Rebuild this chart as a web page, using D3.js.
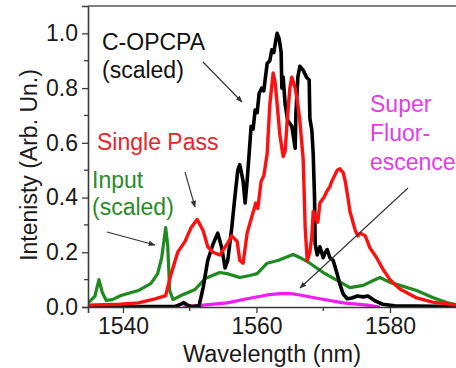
<!DOCTYPE html>
<html>
<head>
<meta charset="utf-8">
<script src="https://cdn.jsdelivr.net/npm/d3@7"></script>
<style>
  body { margin: 0; background: #fff; }
  svg { display: block; font-family: "Liberation Sans", Arial, sans-serif; }
</style>
</head>
<body>
<div id="chart"></div>
<script>
// spectra (wavelength nm, intensity arb. un.)
const inputNm = [1534.8, 1535.8, 1536.4, 1536.9, 1537.5, 1538.4, 1539.7, 1542.3, 1544.2, 1545.2, 1545.8, 1546.4, 1546.7, 1547.0, 1547.5, 1548.7, 1550.8, 1552.3, 1554.5, 1555.6, 1557.5, 1559.0, 1560.1, 1561.6, 1563.2, 1565.5, 1566.8, 1568.0, 1570.0, 1572.1, 1574.0, 1576.0, 1577.5, 1578.5, 1580.0, 1581.5, 1584.0, 1586.4, 1588.5, 1589.9];
const inputVal = [0.015, 0.04, 0.10, 0.053, 0.024, 0.027, 0.042, 0.06, 0.086, 0.122, 0.18, 0.29, 0.225, 0.06, 0.027, 0.042, 0.064, 0.104, 0.126, 0.122, 0.108, 0.115, 0.122, 0.16, 0.17, 0.192, 0.177, 0.16, 0.126, 0.097, 0.071, 0.079, 0.097, 0.108, 0.09, 0.079, 0.06, 0.035, 0.016, 0.009];

const singleNm = [1534.8, 1539.6, 1542.3, 1544.8, 1546.4, 1547.2, 1548.2, 1549.3, 1550.2, 1551.1, 1552.0, 1552.7, 1553.5, 1554.5, 1555.6, 1556.3, 1557.1, 1557.5, 1558.0, 1558.6, 1559.3, 1559.9, 1560.2, 1560.7, 1561.1, 1561.6, 1562.0, 1562.5, 1562.8, 1563.1, 1563.5, 1564.0, 1564.3, 1564.6, 1565.0, 1565.3, 1565.8, 1566.2, 1566.5, 1567.0, 1567.3, 1567.6, 1568.0, 1568.3, 1568.5, 1568.9, 1569.2, 1569.5, 1570.1, 1570.6, 1571.0, 1571.3, 1572.1, 1572.5, 1573.0, 1573.3, 1573.7, 1574.0, 1574.8, 1575.2, 1575.6, 1576.3, 1577.0, 1578.0, 1578.9, 1580.0, 1581.5, 1584.0, 1586.4, 1589.9];
const singleVal = [0.007, 0.01, 0.015, 0.03, 0.042, 0.12, 0.2, 0.24, 0.29, 0.32, 0.28, 0.22, 0.2, 0.19, 0.23, 0.26, 0.24, 0.17, 0.16, 0.27, 0.33, 0.38, 0.36, 0.46, 0.48, 0.56, 0.74, 0.855, 0.82, 0.74, 0.63, 0.55, 0.57, 0.68, 0.8, 0.84, 0.8, 0.74, 0.68, 0.54, 0.29, 0.17, 0.2, 0.26, 0.35, 0.32, 0.31, 0.38, 0.4, 0.425, 0.44, 0.46, 0.5, 0.505, 0.49, 0.46, 0.4, 0.35, 0.28, 0.26, 0.27, 0.26, 0.216, 0.18, 0.14, 0.1, 0.066, 0.033, 0.018, 0.007];

const opcpaNm = [1534.8, 1547.8, 1548.5, 1549.1, 1549.7, 1550.3, 1551.4, 1552.0, 1552.7, 1553.5, 1554.2, 1554.8, 1555.3, 1555.7, 1556.3, 1556.8, 1557.2, 1557.5, 1558.0, 1558.3, 1558.6, 1558.9, 1559.2, 1559.5, 1559.8, 1560.1, 1560.4, 1560.8, 1561.1, 1561.6, 1562.0, 1562.3, 1562.6, 1562.9, 1563.1, 1563.4, 1563.7, 1563.8, 1564.0, 1564.3, 1564.7, 1565.3, 1565.8, 1565.9, 1566.2, 1566.5, 1567.0, 1567.5, 1567.9, 1568.0, 1568.3, 1568.5, 1568.7, 1568.8, 1569.1, 1569.5, 1570.0, 1570.3, 1570.6, 1571.0, 1571.5, 1572.1, 1572.5, 1573.0, 1573.6, 1574.3, 1575.1, 1576.0, 1576.7, 1577.8, 1578.9, 1580.7, 1589.9];
const opcpaVal = [0.002, 0.002, 0.008, 0.016, 0.006, 0.002, 0.004, 0.07, 0.17, 0.23, 0.27, 0.216, 0.143, 0.17, 0.29, 0.41, 0.5, 0.52, 0.46, 0.38, 0.46, 0.56, 0.66, 0.65, 0.72, 0.71, 0.78, 0.8, 0.79, 0.89, 0.9, 0.94, 0.93, 0.975, 1.0, 0.98, 0.93, 0.8, 0.84, 0.74, 0.68, 0.66, 0.58, 0.7, 0.84, 0.88, 0.865, 0.84, 0.83, 0.69, 0.645, 0.56, 0.4, 0.23, 0.19, 0.22, 0.18, 0.2, 0.21, 0.18, 0.17, 0.12, 0.083, 0.047, 0.03, 0.033, 0.04, 0.037, 0.04, 0.022, 0.01, 0.004, 0.002];

const fluorNm = [1549.0, 1552.0, 1555.6, 1558.6, 1561.6, 1563.1, 1564.3, 1565.5, 1566.5, 1569.5, 1573.0, 1576.6, 1578.5];
const fluorVal = [0, 0.007, 0.015, 0.03, 0.044, 0.048, 0.05, 0.048, 0.044, 0.03, 0.015, 0.007, 0];

const xTicks = [1540, 1560, 1580];
const xMinor = [1550, 1570];
const yTicks = [0, 0.2, 0.4, 0.6, 0.8, 1.0];
const yMinor = [0.1, 0.3, 0.5, 0.7, 0.9];

const width = 456, height = 368;
const mLeft = 88, mTop = 6, mBottom = 307;

const x = d3.scaleLinear().domain([1534.76, 1590]).range([mLeft, 456.7]);
const y = d3.scaleLinear().domain([0, 1.1]).range([mBottom, mTop]);

const svg = d3.select('#chart').append('svg')
    .attr('width', width)
    .attr('height', height);

const defs = svg.append('defs');
defs.append('clipPath').attr('id', 'plot')
  .append('rect')
    .attr('x', mLeft).attr('y', mTop)
    .attr('width', width - mLeft).attr('height', mBottom - mTop);

defs.append('marker')
    .attr('id', 'head')
    .attr('viewBox', '0 0 10 10')
    .attr('refX', 9).attr('refY', 5)
    .attr('markerWidth', 7).attr('markerHeight', 7)
    .attr('markerUnits', 'userSpaceOnUse')
    .attr('orient', 'auto')
  .append('path')
    .attr('d', 'M0,1 L10,5 L0,9 Z')
    .attr('fill', '#333');

const line = d3.line()
    .x(d => x(d[0]))
    .y(d => y(d[1]));

const series = [
  { nm: inputNm, val: inputVal, color: '#1f8a1f', w: 3.2 },
  { nm: fluorNm, val: fluorVal, color: '#f21cf2', w: 3.2 },
  { nm: opcpaNm, val: opcpaVal, color: '#000', w: 3.6 },
  { nm: singleNm, val: singleVal, color: '#ff1010', w: 3.4 }
];

const lines = svg.append('g').attr('clip-path', 'url(#plot)');
series.forEach(s => {
  lines.append('path')
      .datum(d3.zip(s.nm, s.val))
      .attr('d', line)
      .attr('fill', 'none')
      .attr('stroke', s.color)
      .attr('stroke-width', s.w)
      .attr('stroke-linejoin', 'round');
});

// axes
const axisColor = '#3a3a3a';
const tickFont = 23;

const gx = svg.append('g')
    .attr('transform', `translate(0,${mBottom})`)
    .call(d3.axisBottom(x).tickValues(xTicks).tickSize(6).tickPadding(5).tickFormat(d3.format('d')));
svg.append('g').selectAll('line').data(xMinor).join('line')
    .attr('x1', d => x(d)).attr('x2', d => x(d))
    .attr('y1', mBottom).attr('y2', mBottom + 4)
    .attr('stroke', axisColor).attr('stroke-width', 1.3);

const gy = svg.append('g')
    .attr('transform', `translate(${mLeft},0)`)
    .call(d3.axisLeft(y).tickValues(yTicks).tickSize(6).tickPadding(4).tickFormat(d3.format('.1f')));
svg.append('g').selectAll('line').data(yMinor).join('line')
    .attr('x1', mLeft - 4).attr('x2', mLeft)
    .attr('y1', d => y(d)).attr('y2', d => y(d))
    .attr('stroke', axisColor).attr('stroke-width', 1.3);

[gx, gy].forEach(g => {
  g.select('.domain').attr('stroke', axisColor).attr('stroke-width', 1.6);
  g.selectAll('.tick line').attr('stroke', axisColor).attr('stroke-width', 1.3);
  g.selectAll('.tick text')
      .attr('font-size', tickFont)
      .attr('font-family', '"Liberation Sans", Arial, sans-serif')
      .attr('fill', '#1a1a1a');
});

// top frame line
svg.append('line')
    .attr('x1', mLeft).attr('x2', width)
    .attr('y1', mTop).attr('y2', mTop)
    .attr('stroke', '#555').attr('stroke-width', 1.6);

svg.append('text')
    .attr('x', 272).attr('y', 362)
    .attr('text-anchor', 'middle')
    .attr('font-size', 23.5)
    .attr('fill', '#1a1a1a')
    .text('Wavelength (nm)');

svg.append('text')
    .attr('transform', 'translate(37,165) rotate(-90)')
    .attr('text-anchor', 'middle')
    .attr('font-size', 23)
    .attr('fill', '#1a1a1a')
    .text('Intenisty (Arb. Un.)');

// annotations
const notes = [
  { lines: ['C-OPCPA', '(scaled)'], x: 102, y: 50, gap: 28, color: '#111' },
  { lines: ['Single Pass'], x: 97, y: 150, gap: 28, color: '#e8242a' },
  { lines: ['Input', '(scaled)'], x: 92, y: 188, gap: 27, color: '#2a8a2a' },
  { lines: ['Super', 'Fluor-', 'escence'], x: 370, y: 112, gap: 29, color: '#e23ce2' }
];
notes.forEach(n => {
  const t = svg.append('text')
      .attr('x', n.x).attr('y', n.y)
      .attr('font-size', 23)
      .attr('fill', n.color);
  n.lines.forEach((s, i) => {
    t.append('tspan')
        .attr('x', n.x)
        .attr('dy', i === 0 ? 0 : n.gap)
        .text(s);
  });
});

const arrows = [
  [203, 62, 242, 102],
  [185, 172, 195, 207],
  [107, 232, 155, 245],
  [408, 188, 300, 288]
];
svg.append('g').selectAll('line').data(arrows).join('line')
    .attr('x1', d => d[0]).attr('y1', d => d[1])
    .attr('x2', d => d[2]).attr('y2', d => d[3])
    .attr('stroke', '#333')
    .attr('stroke-width', 1.1)
    .attr('marker-end', 'url(#head)');
</script>
</body>
</html>
